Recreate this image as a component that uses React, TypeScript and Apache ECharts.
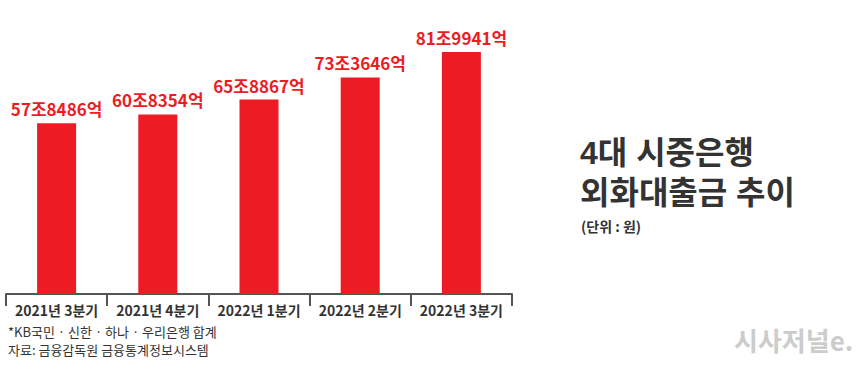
import React, { useEffect, useRef } from "react";
import * as echarts from "echarts";

const categories = ["2021년 3분기", "2021년 4분기", "2022년 1분기", "2022년 2분기", "2022년 3분기"];
// 단위: 억원
const loans = [578486, 608354, 658867, 733646, 819941];
const titleLines = ["4대 시중은행", "외화대출금 추이"];
const unitText = "(단위 : 원)";
const notes = ["*KB국민 · 신한 · 하나 · 우리은행 합계", "자료: 금융감독원 금융통계정보시스템"];
const logoText = "시사저널e.";

const KR = "'Noto Sans CJK KR', 'Noto Sans', sans-serif";
const TITLE_FONT = "'Liberation Sans', 'Noto Sans CJK KR', sans-serif";

function fmt(v: number) {
  const jo = Math.floor(v / 10000);
  const eok = v % 10000;
  return `${jo}조${eok}억`;
}

export default function App() {
  const ref = useRef<HTMLDivElement>(null);
  useEffect(() => {
    if (!ref.current) return;
    const chart = echarts.init(ref.current, null, { renderer: "svg" });
    chart.setOption({
      animation: false,
      backgroundColor: "#ffffff",
      grid: { left: 6, right: 348, top: 52, bottom: 73, containLabel: false },
      xAxis: {
        type: "category",
        data: categories,
        axisLine: { lineStyle: { color: "#555555", width: 2 } },
        axisTick: { show: true, length: 12, lineStyle: { color: "#555555", width: 2 } },
        axisLabel: {
          interval: 0,
          color: "#333333",
          fontSize: 14,
          fontWeight: "bold",
          fontFamily: KR,
          margin: 9,
        },
      },
      yAxis: {
        type: "value",
        min: 0,
        max: "dataMax",
        show: false,
        splitLine: { show: false },
      },
      series: [
        {
          type: "bar",
          data: loans,
          barWidth: 39,
          itemStyle: { color: "#ed1c24" },
          label: {
            show: true,
            position: "top",
            distance: 6,
            color: "#ed1c24",
            fontSize: 17,
            fontWeight: "bold",
            fontFamily: KR,
            formatter: (p: any) => fmt(p.value),
          },
        },
      ],
      graphic: [
        {
          type: "text",
          left: 580,
          top: 135,
          style: { text: titleLines[0], fill: "#333333", font: `bold 32px ${TITLE_FONT}`, lineHeight: 36 },
        },
        {
          type: "text",
          left: 580,
          top: 175,
          style: { text: titleLines[1], fill: "#333333", font: `bold 32px ${TITLE_FONT}`, lineHeight: 36 },
        },
        {
          type: "text",
          left: 581,
          top: 219,
          style: { text: unitText, fill: "#333333", font: `bold 14px ${KR}` },
        },
        {
          type: "text",
          left: 8,
          top: 325,
          style: { text: notes[0], fill: "#333333", font: `13px ${KR}` },
        },
        {
          type: "text",
          left: 8,
          top: 343,
          style: { text: notes[1], fill: "#333333", font: `13px ${KR}` },
        },
        {
          type: "text",
          left: 734,
          top: 326,
          style: { text: logoText, fill: "#cccccc", font: `bold 26px ${KR}` },
        },
      ],
    });
    return () => chart.dispose();
  }, []);
  return <div ref={ref} style={{ width: 860, height: 367, position: "absolute", left: 0, top: 0 }} />;
}
